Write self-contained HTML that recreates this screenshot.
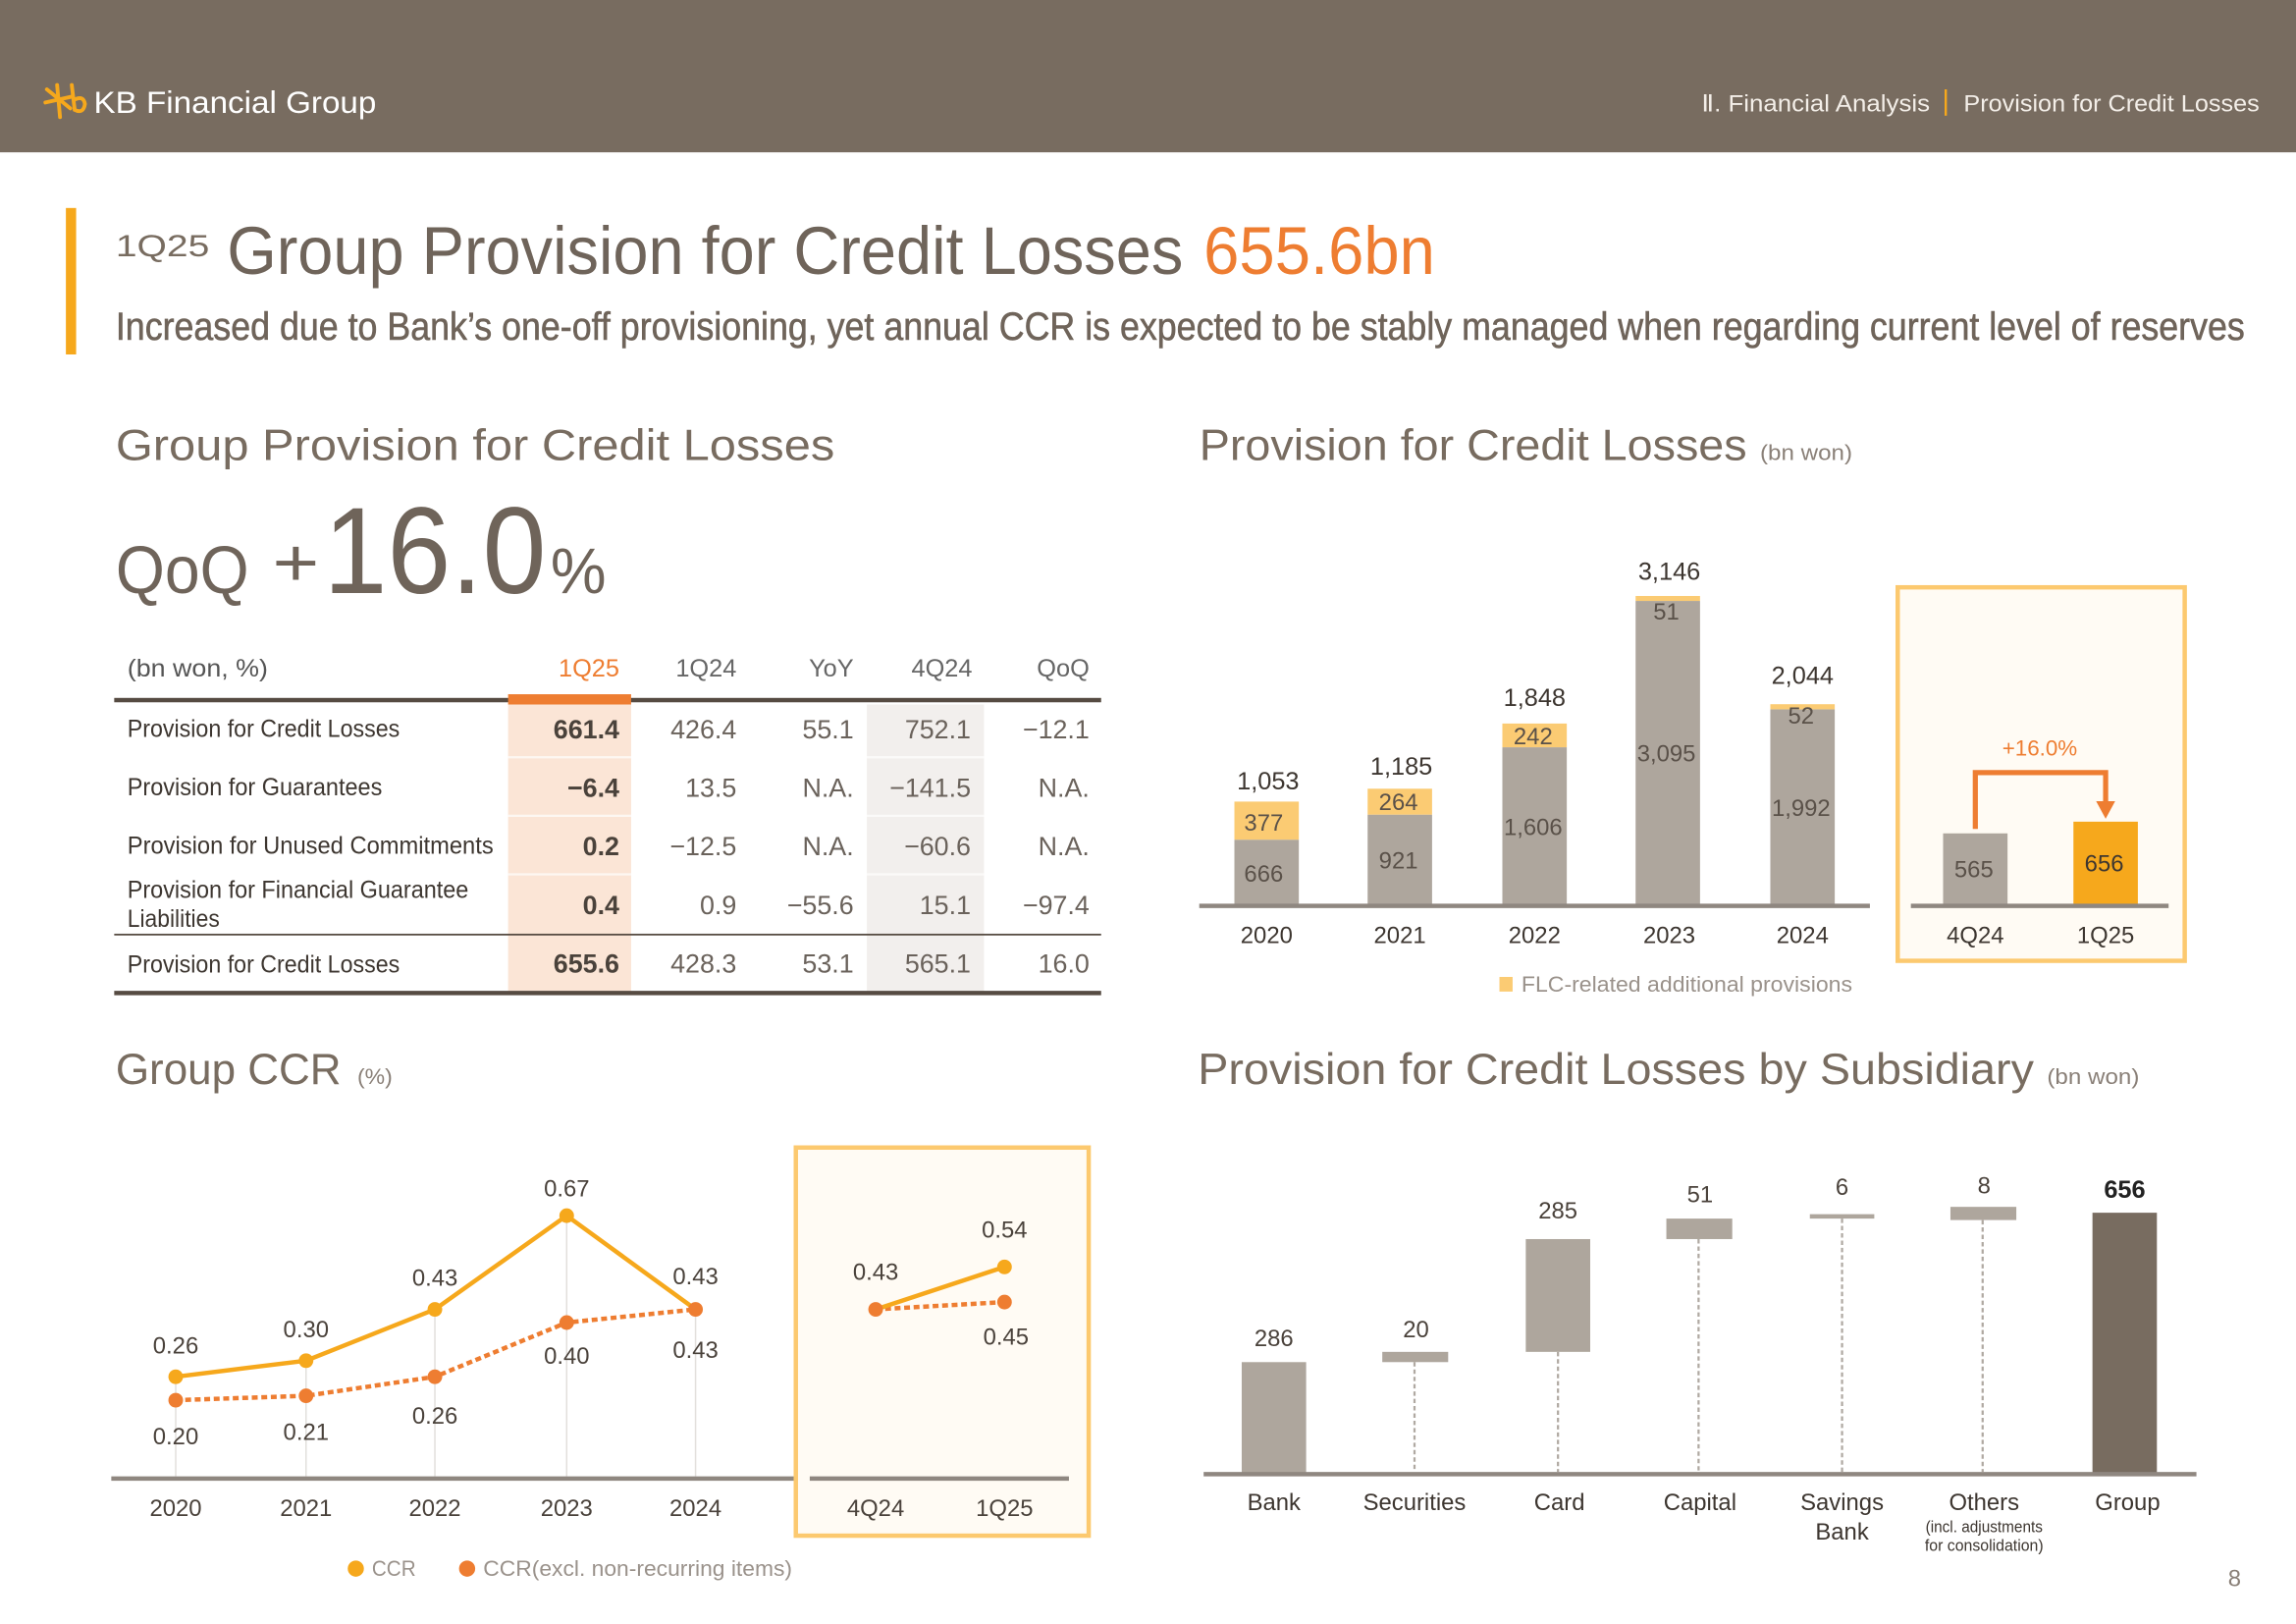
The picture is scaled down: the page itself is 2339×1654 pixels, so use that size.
<!DOCTYPE html>
<html><head><meta charset="utf-8">
<style>
html,body{margin:0;padding:0;background:#fff;}
svg{display:block;}
text{font-family:"Liberation Sans","DejaVu Sans",sans-serif;}
</style></head>
<body>
<svg width="2339" height="1654" viewBox="0 0 1568 1108.8" preserveAspectRatio="none" xmlns="http://www.w3.org/2000/svg">
<rect x="0" y="0" width="1568" height="1108.8" fill="#ffffff"/>
<!-- Header -->
<rect x="0" y="0" width="1568" height="104" fill="#786c60"/>
<g stroke="#f6a81c" stroke-width="2.6" stroke-linecap="round" fill="none">
  <line x1="32" y1="61" x2="48" y2="74"/>
  <line x1="31" y1="70" x2="49" y2="66"/>
  <line x1="39" y1="58" x2="41" y2="80"/>
  <path d="M49 58 L51 75 Q57 78 58 71 Q57 65 51 68"/>
</g>
<text x="64" y="77" font-size="21" fill="#ffffff" textLength="193" lengthAdjust="spacingAndGlyphs">KB Financial Group</text>
<text x="1162" y="76" font-size="16" fill="#f3eee8" textLength="156" lengthAdjust="spacingAndGlyphs">Ⅱ. Financial Analysis</text>
<rect x="1328" y="61" width="1.6" height="18" fill="#f6a81c"/>
<text x="1341" y="76" font-size="16" fill="#f3eee8" textLength="202" lengthAdjust="spacingAndGlyphs">Provision for Credit Losses</text>

<!-- Title -->
<rect x="45" y="142" width="7" height="100" fill="#f6a81c"/>
<text x="79" y="175" font-size="21" fill="#786c60" textLength="64" lengthAdjust="spacingAndGlyphs">1Q25</text>
<text x="155" y="187" font-size="46" fill="#6f645a" textLength="653" lengthAdjust="spacingAndGlyphs">Group Provision for Credit Losses</text>
<text x="822" y="187" font-size="46" fill="#ee7d31" textLength="158" lengthAdjust="spacingAndGlyphs">655.6bn</text>
<text x="79" y="232" font-size="27" fill="#6f645a" stroke="#6f645a" stroke-width="0.4" textLength="1454" lengthAdjust="spacingAndGlyphs">Increased due to Bank’s one-off provisioning, yet annual CCR is expected to be stably managed when regarding current level of reserves</text>

<!-- Section titles -->
<text x="79" y="314" font-size="30" fill="#786c60" textLength="491" lengthAdjust="spacingAndGlyphs">Group Provision for Credit Losses</text>
<text x="819" y="314" font-size="30" fill="#786c60" textLength="374" lengthAdjust="spacingAndGlyphs">Provision for Credit Losses</text>
<text x="1202" y="314" font-size="15" fill="#8a8078" textLength="63" lengthAdjust="spacingAndGlyphs">(bn won)</text>
<text x="79" y="740" font-size="30" fill="#786c60" textLength="154" lengthAdjust="spacingAndGlyphs">Group CCR</text>
<text x="244" y="740" font-size="15" fill="#8a8078" textLength="24" lengthAdjust="spacingAndGlyphs">(%)</text>
<text x="818" y="740" font-size="30" fill="#786c60" textLength="571" lengthAdjust="spacingAndGlyphs">Provision for Credit Losses by Subsidiary</text>
<text x="1398" y="740" font-size="15" fill="#8a8078" textLength="63" lengthAdjust="spacingAndGlyphs">(bn won)</text>

<!-- QoQ +16.0% -->
<text x="79" y="405" font-size="46" fill="#6f645a" textLength="91" lengthAdjust="spacingAndGlyphs">QoQ</text>
<text x="186" y="400" font-size="46" fill="#6f645a" textLength="32" lengthAdjust="spacingAndGlyphs">+</text>
<text x="221" y="405" font-size="84" fill="#6f645a" textLength="152" lengthAdjust="spacingAndGlyphs">16.0</text>
<text x="376" y="405" font-size="44" fill="#6f645a" textLength="38" lengthAdjust="spacingAndGlyphs">%</text>

<!-- Table -->
<rect x="347" y="481" width="84" height="196" fill="#fbe5d6"/>
<rect x="592" y="481" width="80" height="196" fill="#f2efed"/>
<g stroke="#ffffff" stroke-width="1.5" opacity="0.7">
  <line x1="347" y1="517" x2="431" y2="517"/><line x1="347" y1="557" x2="431" y2="557"/><line x1="347" y1="597" x2="431" y2="597"/>
  <line x1="592" y1="517" x2="672" y2="517"/><line x1="592" y1="557" x2="672" y2="557"/><line x1="592" y1="597" x2="672" y2="597"/>
</g>
<rect x="78" y="476.5" width="674" height="3" fill="#564b42"/>
<rect x="347" y="474" width="84" height="7" fill="#ee7d31"/>
<rect x="78" y="637.5" width="674" height="1.2" fill="#564b42"/>
<rect x="78" y="676.5" width="674" height="3" fill="#564b42"/>

<g font-size="17">
<text x="87" y="462" fill="#555" textLength="96" lengthAdjust="spacingAndGlyphs">(bn won, %)</text>
<text x="423" y="462" fill="#ee7d31" text-anchor="end">1Q25</text>
<text x="503" y="462" fill="#666" text-anchor="end">1Q24</text>
<text x="583" y="462" fill="#666" text-anchor="end">YoY</text>
<text x="664" y="462" fill="#666" text-anchor="end">4Q24</text>
<text x="744" y="462" fill="#666" text-anchor="end">QoQ</text>
</g>
<g font-size="17" fill="#3d3630">
<text x="87" y="503" textLength="186" lengthAdjust="spacingAndGlyphs">Provision for Credit Losses</text>
<text x="87" y="543" textLength="174" lengthAdjust="spacingAndGlyphs">Provision for Guarantees</text>
<text x="87" y="583" textLength="250" lengthAdjust="spacingAndGlyphs">Provision for Unused Commitments</text>
<text x="87" y="613" textLength="233" lengthAdjust="spacingAndGlyphs">Provision for Financial Guarantee</text>
<text x="87" y="633" textLength="63" lengthAdjust="spacingAndGlyphs">Liabilities</text>
<text x="87" y="664" textLength="186" lengthAdjust="spacingAndGlyphs">Provision for Credit Losses</text>
</g>
<g font-size="18" fill="#4a423b" font-weight="bold" text-anchor="end">
<text x="423" y="504">661.4</text>
<text x="423" y="544">−6.4</text>
<text x="423" y="584">0.2</text>
<text x="423" y="624">0.4</text>
<text x="423" y="664">655.6</text>
</g>
<g font-size="18" fill="#6a625b" text-anchor="end">
<text x="503" y="504">426.4</text><text x="583" y="504">55.1</text><text x="663" y="504">752.1</text><text x="744" y="504">−12.1</text>
<text x="503" y="544">13.5</text><text x="583" y="544">N.A.</text><text x="663" y="544">−141.5</text><text x="744" y="544">N.A.</text>
<text x="503" y="584">−12.5</text><text x="583" y="584">N.A.</text><text x="663" y="584">−60.6</text><text x="744" y="584">N.A.</text>
<text x="503" y="624">0.9</text><text x="583" y="624">−55.6</text><text x="663" y="624">15.1</text><text x="744" y="624">−97.4</text>
<text x="503" y="664">428.3</text><text x="583" y="664">53.1</text><text x="663" y="664">565.1</text><text x="744" y="664">16.0</text>
</g>

<!-- Top-right bar chart -->
<g fill="#aea69d">
<rect x="843" y="573.3" width="44" height="44.7"/>
<rect x="934" y="556.2" width="44" height="61.8"/>
<rect x="1026" y="510.2" width="44" height="107.8"/>
<rect x="1117" y="410.3" width="44" height="207.7"/>
<rect x="1209" y="484.3" width="44" height="133.7"/>
</g>
<g fill="#fbcb73">
<rect x="843" y="547.3" width="44" height="26"/>
<rect x="934" y="538.5" width="44" height="17.7"/>
<rect x="1026" y="494" width="44" height="16.2"/>
<rect x="1117" y="406.9" width="44" height="3.4"/>
<rect x="1209" y="480.8" width="44" height="3.5"/>
</g>
<rect x="819" y="617" width="458" height="3" fill="#8f8780"/>
<g font-size="17" fill="#3d3630" text-anchor="middle">
<text x="866" y="539">1,053</text>
<text x="957" y="529">1,185</text>
<text x="1048" y="482">1,848</text>
<text x="1140" y="396">3,146</text>
<text x="1231" y="467">2,044</text>
</g>
<g font-size="16" fill="#5a5149" text-anchor="middle">
<text x="863" y="567">377</text><text x="863" y="602">666</text>
<text x="955" y="553">264</text><text x="955" y="593">921</text>
<text x="1047" y="508">242</text><text x="1047" y="570">1,606</text>
<text x="1138" y="423">51</text><text x="1138" y="520">3,095</text>
<text x="1230" y="494">52</text><text x="1230" y="557">1,992</text>
</g>
<g font-size="16" fill="#3d3630" text-anchor="middle">
<text x="865" y="644">2020</text><text x="956" y="644">2021</text><text x="1048" y="644">2022</text><text x="1140" y="644">2023</text><text x="1231" y="644">2024</text>
</g>
<rect x="1024" y="667" width="9" height="10" fill="#fbcb73"/>
<text x="1039" y="677" font-size="15" fill="#9a928b" textLength="226" lengthAdjust="spacingAndGlyphs">FLC-related additional provisions</text>

<rect x="1296" y="401" width="196" height="255" fill="#fffbf4" stroke="#fcc96f" stroke-width="3"/>
<rect x="1327" y="569" width="44" height="49" fill="#aea69d"/>
<rect x="1416" y="561" width="44" height="57" fill="#f6a81c"/>
<rect x="1305" y="617" width="176" height="3" fill="#8f8780"/>
<path d="M1349 566 V527.5 H1438 V549" stroke="#ee7d31" stroke-width="3.5" fill="none"/>
<polygon points="1431.5,547 1444.5,547 1438,559" fill="#ee7d31"/>
<text x="1393" y="516" font-size="15" fill="#ee7d31" text-anchor="middle">+16.0%</text>
<text x="1348" y="599" font-size="16" fill="#5a5149" text-anchor="middle">565</text>
<text x="1437" y="595" font-size="16" fill="#3d3630" text-anchor="middle">656</text>
<text x="1349" y="644" font-size="16" fill="#3d3630" text-anchor="middle">4Q24</text>
<text x="1438" y="644" font-size="16" fill="#3d3630" text-anchor="middle">1Q25</text>

<!-- CCR chart -->
<g stroke="#e2dfdc" stroke-width="1">
<line x1="120" y1="940" x2="120" y2="1008"/><line x1="209" y1="929" x2="209" y2="1008"/><line x1="297" y1="894" x2="297" y2="1008"/><line x1="387" y1="830" x2="387" y2="1008"/><line x1="475" y1="894" x2="475" y2="1008"/>
</g>
<rect x="76" y="1008" width="624" height="3" fill="#8f8780"/>
<polyline points="120,956 209,953 297,940 387,903 475,894" fill="none" stroke="#ee7d31" stroke-width="3" stroke-dasharray="4,2.5"/>
<polyline points="120,940 209,929 297,894 387,830 475,894" fill="none" stroke="#f6a81c" stroke-width="3"/>
<g fill="#ee7d31">
<circle cx="120" cy="956" r="5"/><circle cx="209" cy="953" r="5"/><circle cx="297" cy="940" r="5"/><circle cx="387" cy="903" r="5"/><circle cx="475" cy="894" r="5"/>
</g>
<g fill="#f6a81c">
<circle cx="120" cy="940" r="5"/><circle cx="209" cy="929" r="5"/><circle cx="297" cy="894" r="5"/><circle cx="387" cy="830" r="5"/>
</g>
<g font-size="16" fill="#4a423b" text-anchor="middle">
<text x="120" y="924">0.26</text><text x="209" y="913">0.30</text><text x="297" y="878">0.43</text><text x="387" y="817">0.67</text><text x="475" y="877">0.43</text>
<text x="120" y="986">0.20</text><text x="209" y="983">0.21</text><text x="297" y="972">0.26</text><text x="387" y="931">0.40</text><text x="475" y="927">0.43</text>
<text x="120" y="1035">2020</text><text x="209" y="1035">2021</text><text x="297" y="1035">2022</text><text x="387" y="1035">2023</text><text x="475" y="1035">2024</text>
</g>
<rect x="543.5" y="783.5" width="200" height="265" fill="#fffbf4" stroke="#fcc96f" stroke-width="3"/>
<rect x="553" y="1008" width="177" height="3" fill="#8f8780"/>
<polyline points="598,894 686,889" fill="none" stroke="#ee7d31" stroke-width="3" stroke-dasharray="4,2.5"/>
<polyline points="598,894 686,865" fill="none" stroke="#f6a81c" stroke-width="3"/>
<circle cx="686" cy="865" r="5" fill="#f6a81c"/>
<circle cx="598" cy="894" r="5" fill="#ee7d31"/>
<circle cx="686" cy="889" r="5" fill="#ee7d31"/>
<g font-size="16" fill="#4a423b" text-anchor="middle">
<text x="598" y="874">0.43</text><text x="686" y="845">0.54</text><text x="687" y="918">0.45</text>
<text x="598" y="1035">4Q24</text><text x="686" y="1035">1Q25</text>
</g>
<circle cx="243" cy="1071" r="5.5" fill="#f6a81c"/>
<text x="254" y="1076" font-size="15" fill="#9a928b" textLength="30" lengthAdjust="spacingAndGlyphs">CCR</text>
<circle cx="319" cy="1071" r="5.5" fill="#ee7d31"/>
<text x="330" y="1076" font-size="15" fill="#9a928b" textLength="211" lengthAdjust="spacingAndGlyphs">CCR(excl. non-recurring items)</text>

<!-- Subsidiary chart -->
<g stroke="#b0a9a2" stroke-width="1.5" stroke-dasharray="3,2">
<line x1="966" y1="930" x2="966" y2="1005"/>
<line x1="1064" y1="923" x2="1064" y2="1005"/>
<line x1="1160" y1="846" x2="1160" y2="1005"/>
<line x1="1258" y1="832" x2="1258" y2="1005"/>
<line x1="1354" y1="833" x2="1354" y2="1005"/>
</g>
<g fill="#aea69d">
<rect x="848" y="930" width="44" height="76"/>
<rect x="944" y="923" width="45" height="7"/>
<rect x="1042" y="846" width="44" height="77"/>
<rect x="1138" y="832" width="45" height="14"/>
<rect x="1236" y="829" width="44" height="3"/>
<rect x="1332" y="824" width="45" height="9"/>
</g>
<rect x="1429" y="828" width="44" height="178" fill="#786c60"/>
<rect x="822" y="1005" width="678" height="3" fill="#8f8780"/>
<g font-size="16" fill="#4a423b" text-anchor="middle">
<text x="870" y="919">286</text><text x="967" y="913">20</text><text x="1064" y="832">285</text><text x="1161" y="821">51</text><text x="1258" y="816">6</text><text x="1355" y="815">8</text>
</g>
<text x="1451" y="818" font-size="17" font-weight="bold" fill="#222" text-anchor="middle">656</text>
<g font-size="16" fill="#3d3630" text-anchor="middle">
<text x="870" y="1031">Bank</text>
<text x="966" y="1031">Securities</text>
<text x="1065" y="1031">Card</text>
<text x="1161" y="1031">Capital</text>
<text x="1258" y="1031">Savings</text>
<text x="1258" y="1051">Bank</text>
<text x="1355" y="1031">Others</text>
<text x="1453" y="1031">Group</text>
</g>
<text x="1355" y="1046" font-size="11" fill="#3d3630" text-anchor="middle" textLength="80" lengthAdjust="spacingAndGlyphs">(incl. adjustments</text>
<text x="1355" y="1059" font-size="11" fill="#3d3630" text-anchor="middle" textLength="81" lengthAdjust="spacingAndGlyphs">for consolidation)</text>

<text x="1526" y="1083" font-size="16" fill="#8a8078" text-anchor="middle">8</text>
</svg>
</body></html>
